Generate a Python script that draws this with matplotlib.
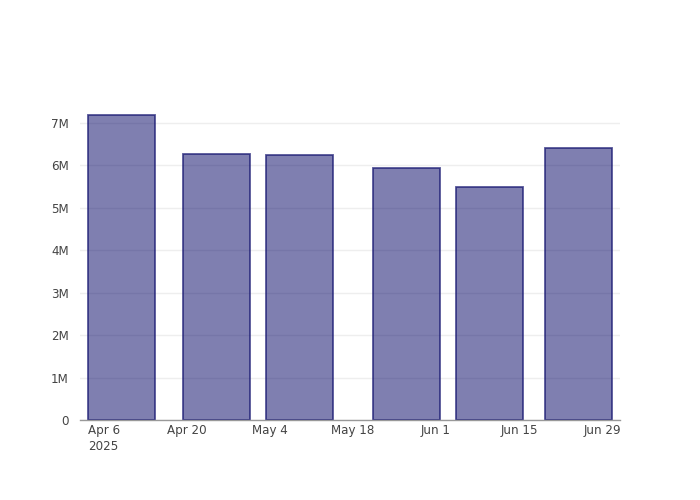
import numpy as np
import matplotlib
matplotlib.use("Agg")
import matplotlib.pyplot as plt
import matplotlib.dates as mdates

dates = np.array(["2025-04-09", "2025-04-25", "2025-05-09",
                  "2025-05-27", "2025-06-10", "2025-06-25"], dtype="datetime64[D]")
values = [7.18e6, 6.27e6, 6.25e6, 5.94e6, 5.50e6, 6.42e6]

tick_dates = np.array(["2025-04-06", "2025-04-20", "2025-05-04", "2025-05-18",
                       "2025-06-01", "2025-06-15", "2025-06-29"], dtype="datetime64[D]")
tick_labels = ["Apr 6\n2025", "Apr 20", "May 4", "May 18", "Jun 1", "Jun 15", "Jun 29"]
y_ticks = [0, 1e6, 2e6, 3e6, 4e6, 5e6, 6e6, 7e6]
y_labels = ["0", "1M", "2M", "3M", "4M", "5M", "6M", "7M"]

fig = plt.figure(figsize=(7, 5), dpi=100)
ax = fig.add_axes([80 / 700, 80 / 500, 540 / 700, 320 / 500])

x = mdates.date2num(dates.astype("datetime64[s]").astype(object))
ax.bar(x, values, width=11.2, facecolor=(0, 0, 0.39, 0.5),
       edgecolor=(0.1, 0.1, 0.45, 0.75), linewidth=1.3, zorder=3)

ax.set_xlim(x[0] - 7, x[-1] + 7)
ax.set_ylim(0, 7.54e6)

ax.set_xticks(mdates.date2num(tick_dates.astype("datetime64[s]").astype(object)))
ax.set_xticklabels(tick_labels, fontsize=8.6, color="#444444", linespacing=1.3)
ax.set_yticks(y_ticks)
ax.set_yticklabels(y_labels, fontsize=8.6, color="#444444")
ax.tick_params(axis="both", length=0)
ax.tick_params(axis="x", pad=3)
ax.tick_params(axis="y", pad=8)

ax.grid(axis="y", color="#eeeeee", linewidth=1, zorder=0)
for s in ["top", "right", "left"]:
    ax.spines[s].set_visible(False)
ax.spines["bottom"].set_color("#999999")
ax.spines["bottom"].set_linewidth(1)
ax.spines["bottom"].set_zorder(4)

fig.savefig("out.png", dpi=100)
